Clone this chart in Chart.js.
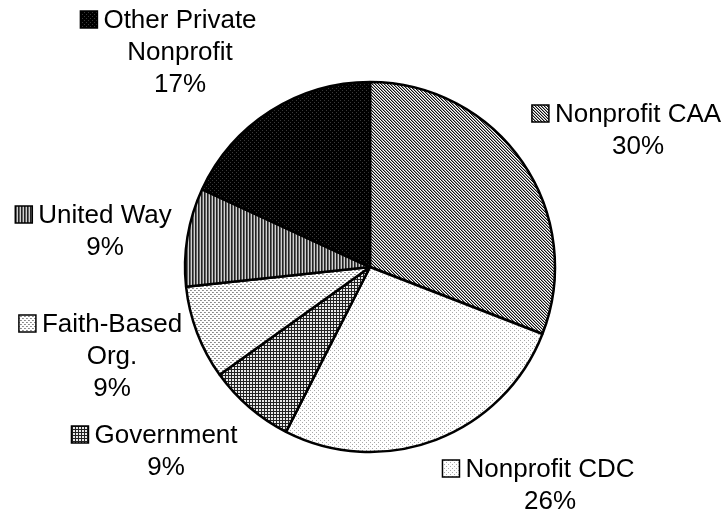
<!DOCTYPE html>
<html>
<head>
<meta charset="utf-8">
<script src="https://cdn.jsdelivr.net/npm/chart.js@4.4.1/dist/chart.umd.min.js"></script>
<style>
  html, body { margin: 0; padding: 0; background: #fff; }
  #wrap { width: 727px; height: 515px; position: relative; }
</style>
</head>
<body>
<div id="wrap"><canvas id="c" width="727" height="515"></canvas></div>
<script>
// ---- data ----
const categories = ["Nonprofit CAA", "Nonprofit CDC", "Government", "Faith-Based Org.", "United Way", "Other Private Nonprofit"];
const shares = [30.9, 26.6, 7.6, 8.2, 8.6, 18.1];
const percentLabels = ["30%", "26%", "9%", "9%", "9%", "17%"];
// label text split into lines (as in the reference)
const labelLines = [
  ["Nonprofit CAA"],
  ["Nonprofit CDC"],
  ["Government"],
  ["Faith-Based", "Org."],
  ["United Way"],
  ["Other Private", "Nonprofit"]
];

// ---- layout (label placement, not data) ----
const labelLayout = [
  { cx: 638, y: 122 },
  { cx: 550, y: 477 },
  { cx: 166, y: 443 },
  { cx: 112, y: 332 },
  { cx: 105, y: 223 },
  { cx: 180, y: 28 }
];
const LINE_H = 32;
const FONT = '26px "Liberation Sans", Arial, sans-serif';

// ---- patterns ----
function makePattern(w, h, bg, pixels) {
  const t = document.createElement('canvas');
  t.width = w; t.height = h;
  const g = t.getContext('2d');
  g.fillStyle = bg; g.fillRect(0, 0, w, h);
  pixels.forEach(([x, y, c]) => { g.fillStyle = c; g.fillRect(x, y, 1, 1); });
  return document.getElementById('c').getContext('2d').createPattern(t, 'repeat');
}
function diag() {
  const px = [];
  for (let y = 0; y < 3; y++) for (let x = 0; x < 3; x++) {
    const k = ((x - y) % 3 + 3) % 3;
    if (k === 0) px.push([x, y, '#111']);
    else if (k === 1) px.push([x, y, '#9a9a9a']);
  }
  return makePattern(3, 3, '#fff', px);
}
function grid() {
  const px = [];
  for (let y = 0; y < 3; y++) for (let x = 0; x < 3; x++) {
    if (x === 0 || y === 0) px.push([x, y, '#222']);
  }
  return makePattern(3, 3, '#e8e8e8', px);
}
const patterns = [
  diag(),
  makePattern(4, 4, '#fff', [[0, 0, '#a8a8a8'], [2, 2, '#a8a8a8']]),
  grid(),
  makePattern(4, 4, '#fff', [[0, 0, '#8a8a8a'], [1, 0, '#9a9a9a'], [2, 2, '#8a8a8a'], [3, 2, '#9a9a9a']]),
  makePattern(3, 1, '#fff', [[0, 0, '#222'], [1, 0, '#666'], [2, 0, '#d0d0d0']]),
  makePattern(4, 4, '#000', [[0, 0, '#3a3a3a'], [2, 2, '#3a3a3a']])
];

// ---- label plugin ----
const labelPlugin = {
  id: 'outLabels',
  afterDatasetsDraw(chart) {
    const ctx = chart.ctx;
    ctx.save();
    ctx.font = FONT;
    ctx.fillStyle = '#000';
    ctx.textBaseline = 'alphabetic';
    ctx.textAlign = 'center';
    chart.data.labels.forEach((_, i) => {
      const L = labelLayout[i];
      const lines = labelLines[i].concat([percentLabels[i]]);
      lines.forEach((s, j) => {
        ctx.fillText(s, L.cx, L.y + j * LINE_H);
      });
      // legend key before first line
      const w = ctx.measureText(lines[0]).width;
      const kx = L.cx - w / 2 - 6 - 17;
      const ky = L.y - 17;
      ctx.fillStyle = patterns[i];
      ctx.fillRect(kx, ky, 17, 17);
      ctx.lineWidth = 1.5;
      ctx.strokeStyle = '#000';
      ctx.strokeRect(kx, ky, 17, 17);
      ctx.fillStyle = '#000';
    });
    ctx.restore();
  }
};

new Chart(document.getElementById('c'), {
  type: 'pie',
  data: {
    labels: categories,
    datasets: [{
      data: shares,
      backgroundColor: patterns,
      borderColor: '#000',
      borderWidth: 2.5,
      hoverOffset: 0
    }]
  },
  options: {
    responsive: false,
    animation: false,
    radius: 185,
    layout: { padding: { left: 13, right: 0, top: 19, bottom: 0 } },
    plugins: {
      legend: { display: false },
      tooltip: { enabled: false }
    },
    events: []
  },
  plugins: [labelPlugin]
});
</script>
</body>
</html>
